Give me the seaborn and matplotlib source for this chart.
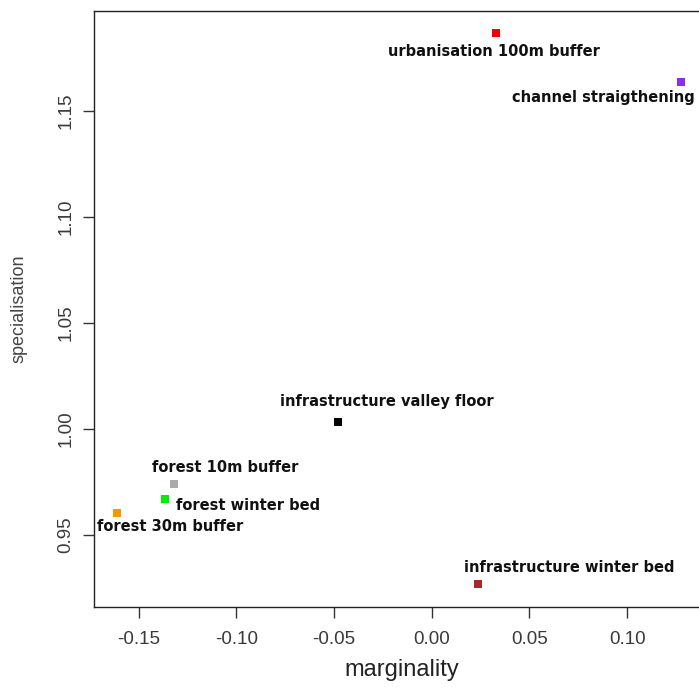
import pandas as pd
import matplotlib.pyplot as plt
import seaborn as sns

sns.set_style("ticks")
plt.rcParams['font.family'] = ['Liberation Sans', 'DejaVu Sans']

# habitat variables in the ENFA output
variables = ["urbanisation 100m buffer", "channel straigthening", "infrastructure valley floor",
             "forest 10m buffer", "forest winter bed", "forest 30m buffer",
             "infrastructure winter bed"]
marginality = [0.0329, 0.1276, -0.0480, -0.1319, -0.1364, -0.1610, 0.0237]
specialisation = [1.1868, 1.1637, 1.0033, 0.9740, 0.9670, 0.9604, 0.9269]
colours = ["#ee0000", "#912CEE", "#000000", "#aaaaaa", "#00ee00", "#ee9a00", "#a52a2a"]

# label offsets (points) relative to each marker
label_dx = [-1.5, -56, 35, 37, 60, 38, 66]
label_dy = [-13, -11.5, 15, 12, -4.5, -10, 12]

df = pd.DataFrame({"variable": variables, "marginality": marginality,
                   "specialisation": specialisation})

fig = plt.figure(figsize=(6.99, 6.95), dpi=100)
ax = fig.add_axes([0.1345, 0.1266, 0.8813, 0.8576])

sns.scatterplot(data=df, x="marginality", y="specialisation", hue="variable",
                palette=dict(zip(variables, colours)), marker="s", s=36,
                linewidth=0, legend=False, ax=ax)

for name, x, y, dx, dy in zip(variables, marginality, specialisation, label_dx, label_dy):
    ax.annotate(name, (x, y), xytext=(dx, dy), textcoords="offset points",
                ha="center", va="center", fontsize=10.5, fontweight="bold",
                family="DejaVu Sans", color="#111111")

ax.set_xlim(-0.1728, 0.1424)
ax.set_ylim(0.9160, 1.1972)
ax.set_xticks([-0.15, -0.10, -0.05, 0.00, 0.05, 0.10])
ax.set_xticklabels(["-0.15", "-0.10", "-0.05", "0.00", "0.05", "0.10"])
ax.set_yticks([0.95, 1.00, 1.05, 1.10, 1.15])
ax.set_yticklabels(["0.95", "1.00", "1.05", "1.10", "1.15"], rotation=90, va="center")

ax.tick_params(axis="both", length=8, width=1, color="#333333", labelsize=13.5,
               labelcolor="#3a3a3a")
ax.tick_params(axis="x", pad=9)
ax.tick_params(axis="y", pad=6)
for side in ["left", "bottom", "top", "right"]:
    ax.spines[side].set_visible(True)
    ax.spines[side].set_color("#222222")
    ax.spines[side].set_linewidth(1)

ax.set_xlabel("marginality", fontsize=17, color="#222222", labelpad=8)
ax.set_ylabel("specialisation", fontsize=13, color="#444444", labelpad=22)

plt.savefig("out.png", dpi=100)
